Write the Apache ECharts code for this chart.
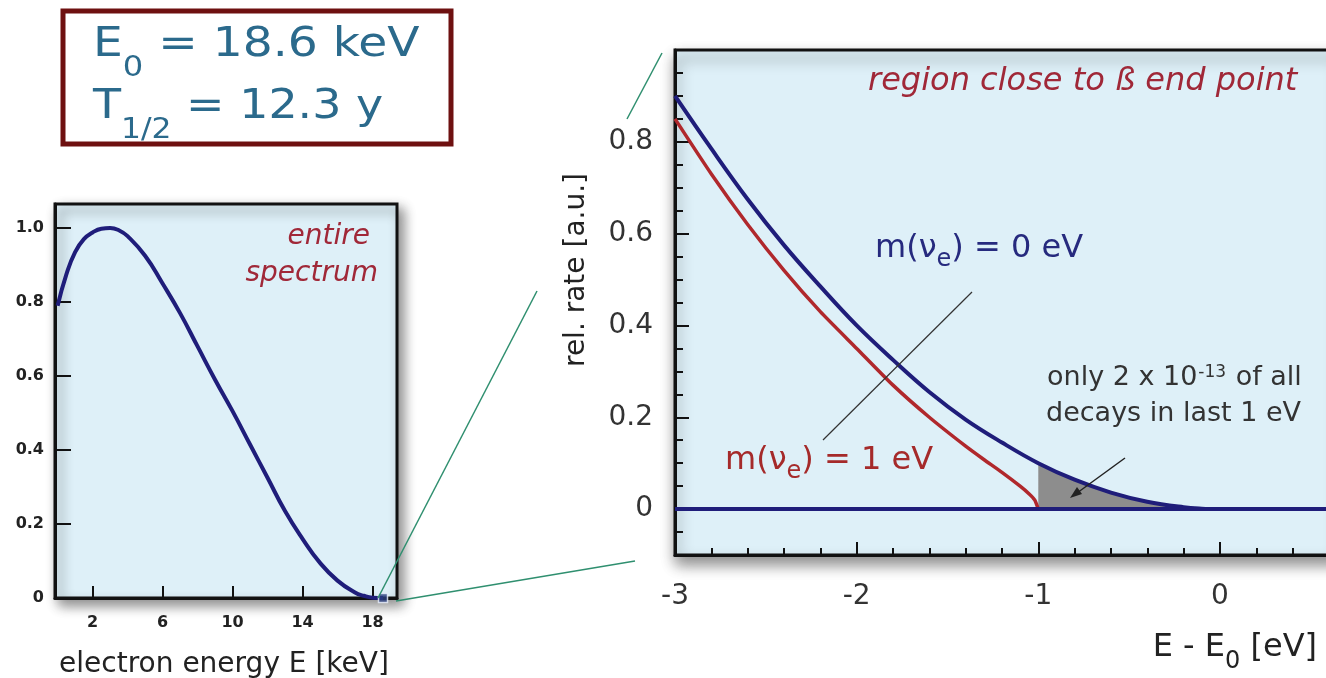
<!DOCTYPE html>
<html lang="en">
<head>
    <meta charset="UTF-8">
    <title>Tritium beta spectrum</title>
    <style>
        html, body { margin: 0; padding: 0; background: #fff; }
    </style>
</head>
<body>
<div id="demo" style="width:1326px;height:678px"></div>
<script src="https://cdn.jsdelivr.net/npm/echarts@6/dist/echarts.min.js"></script>
<script type="text/javascript">
    // left panel - entire spectrum (keV)
    var specE    = [0, 0.5, 1, 1.5, 2, 2.5, 3, 3.5, 4, 5, 6, 7, 8, 9, 10, 11, 12, 13, 14, 15, 16, 17, 17.5, 18, 18.6];
    var specRate = [0.79, 0.875, 0.935, 0.97, 0.988, 0.998, 1.0, 0.994, 0.978, 0.925, 0.85, 0.77, 0.68, 0.59, 0.505, 0.415, 0.325, 0.235, 0.16, 0.095, 0.047, 0.015, 0.006, 0.001, 0];
    var specTicks = [2, 6, 10, 14, 18];
    var specRateTicks = [0, 0.2, 0.4, 0.6, 0.8, 1.0];
    var endPoint = [18.6, 0];

    // right panel - region close to end point (eV)
    var m0E    = [-3, -2.8, -2.6, -2.4, -2.2, -2.0, -1.8, -1.6, -1.4, -1.2, -1.0, -0.8, -0.6, -0.4, -0.2, -0.1, 0];
    var m0Rate = [0.90, 0.785, 0.675, 0.575, 0.485, 0.40, 0.325, 0.255, 0.195, 0.145, 0.10, 0.064, 0.036, 0.016, 0.004, 0.001, 0];
    var m1E    = [-3, -2.8, -2.6, -2.4, -2.2, -2.0, -1.8, -1.6, -1.4, -1.3, -1.2, -1.1, -1.05, -1.02, -1.0];
    var m1Rate = [0.85, 0.73, 0.62, 0.52, 0.43, 0.35, 0.27, 0.20, 0.137, 0.108, 0.080, 0.050, 0.033, 0.02, 0];
    var zoomRateTicks = [0, 0.2, 0.4, 0.6, 0.8];
    var lastEvFrom = -1;

    var FONT = 'DejaVu Sans';
    var NAVY = '#1f1d7a';
    var RED = '#b0282c';
    var LABEL_RED = '#a02838';
    var PLOT_BG = '#def0f8';

    function pairs(xs, ys) {
        var out = [];
        for (var i = 0; i < xs.length; i++) {
            out.push([xs[i], ys[i]]);
        }
        return out;
    }

    function fmt(v) {
        return v === 0 ? '0' : v.toFixed(1);
    }

    var m0Data = pairs(m0E, m0Rate);
    var shaded = m0Data.filter(function (p) { return p[0] >= lastEvFrom; });

    var myChart = echarts.init(document.getElementById('demo'));

    var option = {
        animation: false,
        backgroundColor: '#fff',
        grid: [{
            left: 55, top: 204, width: 342, height: 394,
            show: true, backgroundColor: PLOT_BG,
            borderColor: '#111', borderWidth: 3,
            shadowColor: 'rgba(0,0,0,0.45)', shadowBlur: 12,
            shadowOffsetX: 5, shadowOffsetY: 6,
            outerBoundsMode: 'none'
        }, {
            left: 675, top: 50, width: 663, height: 505,
            show: true, backgroundColor: PLOT_BG,
            borderColor: '#111', borderWidth: 3,
            shadowColor: 'rgba(0,0,0,0.45)', shadowBlur: 14,
            shadowOffsetX: 2, shadowOffsetY: 8,
            outerBoundsMode: 'none'
        }],
        xAxis: [{
            gridIndex: 0, type: 'value', min: -0.15, max: 19.4,
            axisLine: {onZero: false, lineStyle: {color: '#111', width: 3}},
            axisTick: {inside: true, length: 12, customValues: specTicks, lineStyle: {color: '#111', width: 2}},
            axisLabel: {customValues: specTicks, margin: 17, fontSize: 16, fontWeight: 'bold', fontFamily: FONT, color: '#222'},
            splitLine: {show: false}
        }, {
            gridIndex: 1, type: 'value', min: -3, max: 0.65, interval: 1,
            axisLine: {onZero: false, lineStyle: {color: '#111', width: 3}},
            axisTick: {inside: true, length: 13, lineStyle: {color: '#111', width: 2}},
            minorTick: {show: true, splitNumber: 5, length: 7, lineStyle: {color: '#111', width: 2}},
            axisLabel: {margin: 28, fontSize: 28, fontFamily: FONT, color: '#333', showMaxLabel: false},
            splitLine: {show: false}
        }],
        yAxis: [{
            gridIndex: 0, type: 'value', min: 0, max: 1.065,
            axisLine: {onZero: false, lineStyle: {color: '#111', width: 3}},
            axisTick: {inside: true, length: 16, customValues: specRateTicks, lineStyle: {color: '#111', width: 2}},
            axisLabel: {customValues: specRateTicks, formatter: fmt, margin: 11, fontSize: 16, fontWeight: 'bold', fontFamily: FONT, color: '#222'},
            splitLine: {show: false}
        }, {
            // minor ticks every 0.05
            gridIndex: 1, type: 'value', min: -0.1, max: 1.0, interval: 0.05,
            axisLine: {onZero: false, lineStyle: {color: '#111', width: 3}},
            axisTick: {inside: true, length: 8, lineStyle: {color: '#111', width: 2}},
            axisLabel: {show: false},
            splitLine: {show: false}
        }, {
            // major ticks + labels
            gridIndex: 1, type: 'value', min: -0.1, max: 1.0, position: 'left',
            axisLine: {show: false, onZero: false},
            axisTick: {inside: true, length: 14, customValues: zoomRateTicks, lineStyle: {color: '#111', width: 2}},
            axisLabel: {customValues: zoomRateTicks, formatter: fmt, margin: 22, fontSize: 28, fontFamily: FONT, color: '#333'},
            splitLine: {show: false}
        }],
        series: [{
            name: 'entire spectrum',
            type: 'line', xAxisIndex: 0, yAxisIndex: 0,
            data: pairs(specE, specRate),
            smooth: 0.5, showSymbol: false,
            lineStyle: {color: NAVY, width: 4}, z: 3
        }, {
            name: 'end point',
            type: 'scatter', xAxisIndex: 0, yAxisIndex: 0,
            data: [endPoint], symbol: 'rect', symbolSize: 9, clip: false,
            itemStyle: {color: '#2a3f80', borderColor: '#eef4ff', borderWidth: 1.5}, z: 5
        }, {
            name: 'last 1 eV',
            type: 'line', xAxisIndex: 1, yAxisIndex: 1,
            data: shaded, smooth: 0.4, showSymbol: false,
            lineStyle: {width: 0}, areaStyle: {color: '#8d8d8d', opacity: 1}, z: 2
        }, {
            name: 'm = 0 eV',
            type: 'line', xAxisIndex: 1, yAxisIndex: 1,
            data: m0Data, smooth: 0.4, showSymbol: false,
            lineStyle: {color: NAVY, width: 4}, z: 4,
            markLine: {
                silent: true, symbol: 'none', label: {show: false},
                lineStyle: {color: NAVY, width: 4, type: 'solid'},
                data: [{yAxis: 0}]
            }
        }, {
            name: 'm = 1 eV',
            type: 'line', xAxisIndex: 1, yAxisIndex: 1,
            data: pairs(m1E, m1Rate), smooth: 0.2, showSymbol: false,
            lineStyle: {color: RED, width: 3.5}, z: 3
        }],
        graphic: [
            // zoom connector lines
            {type: 'line', z: 50, shape: {x1: 378, y1: 598, x2: 537, y2: 291}, style: {stroke: '#2f8f6f', lineWidth: 1.5}},
            {type: 'line', z: 50, shape: {x1: 627, y1: 119, x2: 662, y2: 53}, style: {stroke: '#2f8f6f', lineWidth: 1.5}},
            {type: 'line', z: 50, shape: {x1: 396, y1: 601, x2: 635, y2: 561}, style: {stroke: '#2f8f6f', lineWidth: 1.5}},

            // E0 / half-life box
            {type: 'rect', z: 50, shape: {x: 63, y: 11, width: 388, height: 133}, style: {fill: '#fff', stroke: '#6e1010', lineWidth: 5}},
            {type: 'text', z: 51, x: 93, y: 25, scaleX: 1.15, style: {
                text: '{m|E}{s|0}{m| = 18.6 keV}', fill: '#2b6a8c', verticalAlign: 'top',
                rich: {
                    m: {fontSize: 41, fontFamily: FONT, lineHeight: 50, verticalAlign: 'top', fill: '#2b6a8c'},
                    s: {fontSize: 28, fontFamily: FONT, lineHeight: 28, padding: [30, 0, 0, 0], verticalAlign: 'top', fill: '#2b6a8c'}
                }
            }},
            {type: 'text', z: 51, x: 93, y: 87, scaleX: 1.12, style: {
                text: '{m|T}{s|1/2}{m| = 12.3 y}', fill: '#2b6a8c', verticalAlign: 'top',
                rich: {
                    m: {fontSize: 41, fontFamily: FONT, lineHeight: 50, verticalAlign: 'top', fill: '#2b6a8c'},
                    s: {fontSize: 28, fontFamily: FONT, lineHeight: 28, padding: [30, 0, 0, 0], verticalAlign: 'top', fill: '#2b6a8c'}
                }
            }},

            // left panel texts
            {type: 'text', z: 51, x: 370, y: 237, style: {text: 'entire', fontSize: 28, fontStyle: 'italic', fontFamily: FONT, fill: LABEL_RED, align: 'right', verticalAlign: 'middle'}},
            {type: 'text', z: 51, x: 378, y: 274, style: {text: 'spectrum', fontSize: 28, fontStyle: 'italic', fontFamily: FONT, fill: LABEL_RED, align: 'right', verticalAlign: 'middle'}},
            {type: 'text', z: 51, x: 224, y: 665, style: {text: 'electron energy E [keV]', fontSize: 28, fontFamily: FONT, fill: '#222', align: 'center', verticalAlign: 'middle'}},

            // right panel texts
            {type: 'text', z: 51, x: 868, y: 82, style: {text: 'region close to ß end point', fontSize: 32, fontStyle: 'italic', fontFamily: FONT, fill: LABEL_RED, align: 'left', verticalAlign: 'middle'}},
            {type: 'text', z: 51, x: 577, y: 270, rotation: Math.PI / 2, style: {text: 'rel. rate [a.u.]', fontSize: 28, fontFamily: FONT, fill: '#222', align: 'center', verticalAlign: 'middle'}},
            {type: 'text', z: 51, x: 875, y: 233, style: {
                text: '{m|m(ν}{s|e}{m|) = 0 eV}', fill: NAVY, verticalAlign: 'top',
                rich: {
                    m: {fontSize: 32, fontFamily: FONT, lineHeight: 40, verticalAlign: 'top', fill: '#262a7e'},
                    s: {fontSize: 24, fontFamily: FONT, lineHeight: 24, padding: [15, 0, 0, 0], verticalAlign: 'top', fill: '#262a7e'}
                }
            }},
            {type: 'text', z: 51, x: 725, y: 445, style: {
                text: '{m|m(ν}{s|e}{m|) = 1 eV}', fill: RED, verticalAlign: 'top',
                rich: {
                    m: {fontSize: 32, fontFamily: FONT, lineHeight: 40, verticalAlign: 'top', fill: '#a52a2a'},
                    s: {fontSize: 24, fontFamily: FONT, lineHeight: 24, padding: [15, 0, 0, 0], verticalAlign: 'top', fill: '#a52a2a'}
                }
            }},
            {type: 'text', z: 51, x: 1047, y: 364, style: {
                text: '{m|only 2 x 10}{p|-13}{m| of all}', fill: '#333', verticalAlign: 'top',
                rich: {
                    m: {fontSize: 27, fontFamily: FONT, lineHeight: 32, verticalAlign: 'top', fill: '#333'},
                    p: {fontSize: 17, fontFamily: FONT, lineHeight: 17, padding: [0, 1, 0, 1], verticalAlign: 'top', fill: '#333'}
                }
            }},
            {type: 'text', z: 51, x: 1046, y: 414, style: {text: 'decays in last 1 eV', fontSize: 27, fontFamily: FONT, fill: '#333', align: 'left', verticalAlign: 'middle'}},
            {type: 'text', z: 51, x: 1317, y: 632, style: {
                text: '{m|E - E}{s|0}{m| [eV]}', fill: '#222', align: 'right', verticalAlign: 'top',
                rich: {
                    m: {fontSize: 32, fontFamily: FONT, lineHeight: 40, verticalAlign: 'top', fill: '#222'},
                    s: {fontSize: 24, fontFamily: FONT, lineHeight: 24, padding: [18, 0, 0, 0], verticalAlign: 'top', fill: '#222'}
                }
            }},

            // leader line and arrow
            {type: 'line', z: 51, shape: {x1: 972, y1: 292, x2: 823, y2: 440}, style: {stroke: '#333', lineWidth: 1.2}},
            {type: 'line', z: 51, shape: {x1: 1125, y1: 458, x2: 1077, y2: 493}, style: {stroke: '#222', lineWidth: 1.5}},
            {type: 'polygon', z: 51, shape: {points: [[1070, 498], [1082, 494], [1077, 487]]}, style: {fill: '#222'}}
        ]
    };
    myChart.setOption(option);
</script>
</body>
</html>
